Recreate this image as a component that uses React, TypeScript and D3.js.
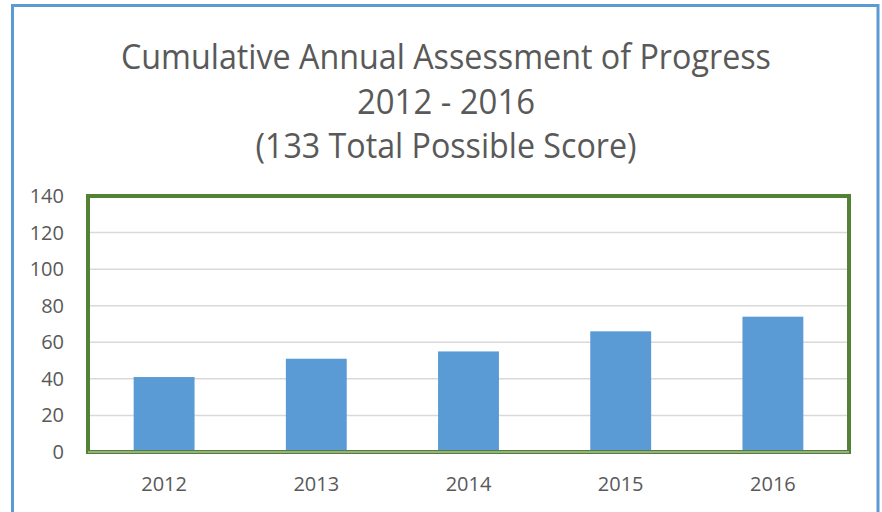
import React, { useEffect, useRef } from 'react'
import * as d3 from 'd3'

const width = 882
const height = 512
const plot = { left: 88, right: 849, top: 196, bottom: 452 }

const years = ['2012', '2013', '2014', '2015', '2016']
const scores = [41, 51, 55, 66, 74]
const yTicks = [0, 20, 40, 60, 80, 100, 120, 140]
const titleLines = [
  'Cumulative Annual Assessment of Progress',
  '2012 - 2016',
  '(133 Total Possible Score)',
]

const font = '"Open Sans", "Liberation Sans", sans-serif'
const textColor = '#595959'

export default function App() {
  const ref = useRef<SVGSVGElement>(null)

  useEffect(() => {
    const svg = d3.select(ref.current)
    svg.selectAll('*').remove()

    // ------- scales -------
    const x = d3.scaleBand<string>()
      .domain(years)
      .range([plot.left, plot.right])
      .paddingInner(0.6)
      .paddingOuter(0.3)

    const y = d3.scaleLinear()
      .domain([0, 140])
      .range([plot.bottom, plot.top])

    // outer frame (bottom edge runs off the page)
    svg.append('rect')
      .attr('x', 12.5).attr('y', 5.5)
      .attr('width', 878 - 12.5).attr('height', 600)
      .attr('fill', 'white')
      .attr('stroke', '#5b9bd5')
      .attr('stroke-width', 3)

    // title
    const titleY = [69, 114, 158]
    const titleW = [650, 178, 381]
    svg.append('g')
      .selectAll('text')
      .data(titleLines)
      .join('text')
      .attr('x', 446)
      .attr('y', (d, i) => titleY[i])
      .attr('text-anchor', 'middle')
      .attr('textLength', (d, i) => titleW[i])
      .attr('lengthAdjust', 'spacingAndGlyphs')
      .style('font-family', font)
      .style('font-size', '35px')
      .style('fill', textColor)
      .text(d => d)

    // gridlines
    svg.append('g')
      .selectAll('line')
      .data(yTicks)
      .join('line')
      .attr('x1', plot.left).attr('x2', plot.right)
      .attr('y1', d => y(d)).attr('y2', d => y(d))
      .attr('stroke', '#d9d9d9')
      .attr('stroke-width', 1.5)

    // y labels
    svg.append('g')
      .selectAll('text')
      .data(yTicks)
      .join('text')
      .attr('x', 64)
      .attr('y', d => y(d) + 7)
      .attr('text-anchor', 'end')
      .style('font-family', font)
      .style('font-size', '20px')
      .style('fill', textColor)
      .text(d => d)

    // bars
    svg.append('g')
      .selectAll('rect')
      .data(scores)
      .join('rect')
      .attr('x', (d, i) => x(years[i])!)
      .attr('y', d => y(d))
      .attr('width', x.bandwidth())
      .attr('height', d => y(0) - y(d))
      .attr('fill', '#5b9bd5')

    // plot area border
    svg.append('rect')
      .attr('x', plot.left).attr('y', plot.top)
      .attr('width', plot.right - plot.left)
      .attr('height', plot.bottom - plot.top)
      .attr('fill', 'none')
      .attr('stroke', '#548235')
      .attr('stroke-width', 4)

    // category axis line
    svg.append('line')
      .attr('x1', plot.left).attr('x2', plot.right)
      .attr('y1', y(0)).attr('y2', y(0))
      .attr('stroke', '#d9d9d9')
      .attr('stroke-width', 1)

    // x labels
    svg.append('g')
      .selectAll('text')
      .data(years)
      .join('text')
      .attr('x', d => x(d)! + x.bandwidth() / 2)
      .attr('y', 491)
      .attr('text-anchor', 'middle')
      .style('font-family', font)
      .style('font-size', '20px')
      .style('fill', textColor)
      .text(d => d)
  }, [])

  return (
    <svg
      ref={ref}
      width={width}
      height={height}
      style={{ position: 'absolute', left: 0, top: 0, background: 'white' }}
    />
  )
}
